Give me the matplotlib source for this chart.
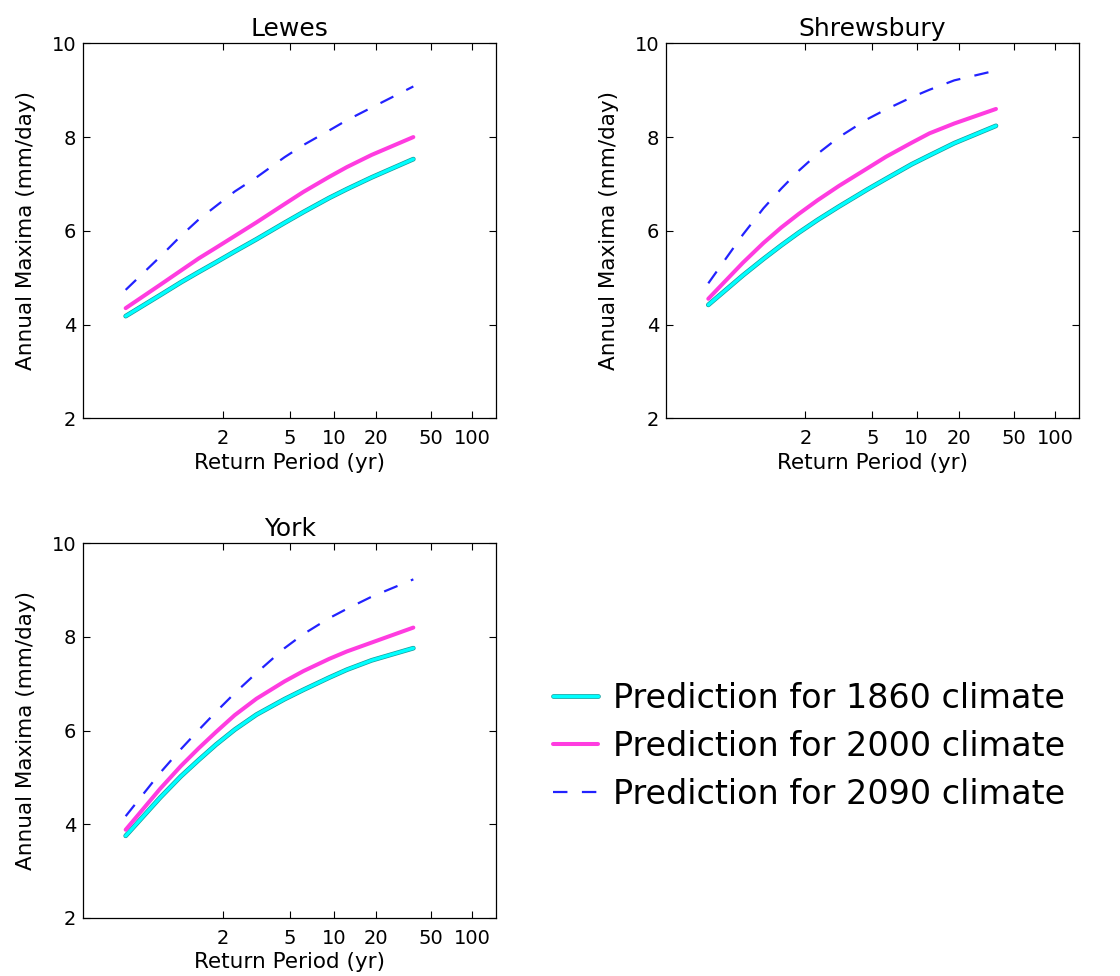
import numpy as np
import matplotlib
matplotlib.use('Agg')
import matplotlib.pyplot as plt
import matplotlib.patheffects as pe
from matplotlib.ticker import FixedLocator, FixedFormatter, NullLocator

# return periods of the plotted points (yr)
return_period = [1.028, 1.156, 1.321, 1.542, 1.85, 2.313, 3.083, 4.625, 6.167, 9.25, 12.33, 18.5, 37.0]

sites = ['Lewes', 'Shrewsbury', 'York']

lewes_1860 = [4.18, 4.63, 4.90, 5.12, 5.33, 5.56, 5.82, 6.17, 6.40, 6.70, 6.89, 7.14, 7.53]
lewes_2000 = [4.35, 4.85, 5.15, 5.41, 5.64, 5.89, 6.18, 6.57, 6.83, 7.15, 7.36, 7.62, 8.00]
lewes_2090 = [4.74, 5.45, 5.89, 6.24, 6.53, 6.84, 7.14, 7.57, 7.83, 8.14, 8.36, 8.63, 9.08]

shrewsbury_1860 = [4.42, 5.05, 5.40, 5.69, 5.96, 6.23, 6.52, 6.88, 7.11, 7.42, 7.61, 7.87, 8.24]
shrewsbury_2000 = [4.55, 5.32, 5.74, 6.07, 6.36, 6.65, 6.96, 7.33, 7.58, 7.88, 8.08, 8.29, 8.60]
shrewsbury_2090 = [4.88, 5.92, 6.48, 6.90, 7.28, 7.64, 8.00, 8.38, 8.59, 8.85, 9.01, 9.21, 9.42]

york_1860 = [3.75, 4.57, 5.02, 5.37, 5.70, 6.02, 6.34, 6.67, 6.87, 7.13, 7.30, 7.50, 7.76]
york_2000 = [3.88, 4.76, 5.24, 5.62, 5.97, 6.33, 6.68, 7.05, 7.27, 7.53, 7.69, 7.88, 8.20]
york_2090 = [4.17, 5.10, 5.60, 6.01, 6.40, 6.80, 7.23, 7.76, 8.06, 8.40, 8.60, 8.86, 9.23]

series = {
    'Lewes': (lewes_1860, lewes_2000, lewes_2090),
    'Shrewsbury': (shrewsbury_1860, shrewsbury_2000, shrewsbury_2090),
    'York': (york_1860, york_2000, york_2090),
}

labels = ['Prediction for 1860 climate', 'Prediction for 2000 climate', 'Prediction for 2090 climate']
xticks = [2, 5, 10, 20, 50, 100]
yticks = [2, 4, 6, 8, 10]


def gumbel(T):
    # Gumbel reduced variate of a return period
    T = np.asarray(T, dtype=float)
    with np.errstate(all='ignore'):
        return -np.log(-np.log(1.0 - 1.0 / T))


def gumbel_inv(g):
    g = np.asarray(g, dtype=float)
    with np.errstate(all='ignore'):
        return 1.0 / (1.0 - np.exp(-np.exp(-g)))


fig = plt.figure(figsize=(11.2, 9.76), dpi=100)
boxes = {
    'Lewes': [0.0744, 0.5714, 0.3685, 0.3842],
    'Shrewsbury': [0.5946, 0.5714, 0.3685, 0.3842],
    'York': [0.0744, 0.0597, 0.3685, 0.3836],
}

handles = []
for site in sites:
    ax = fig.add_axes(boxes[site])
    c1860, c2000, c2090 = series[site]
    h1, = ax.plot(return_period, c1860, color='#00ffff', lw=2.4, solid_capstyle='round',
                  path_effects=[pe.Stroke(linewidth=3.4, foreground='#1a9a9a'), pe.Normal()])
    h2, = ax.plot(return_period, c2000, color='#ff3ce0', lw=2.9, solid_capstyle='round')
    h3, = ax.plot(return_period, c2090, color='#2222ff', lw=1.6, linestyle=(0, (6.5, 6.5)))
    if not handles:
        handles = [h1, h2, h3]

    ax.set_xscale('function', functions=(gumbel, gumbel_inv))
    ax.set_xlim(gumbel_inv(-2.0), gumbel_inv(5.0))
    ax.set_ylim(2, 10)
    ax.xaxis.set_major_locator(FixedLocator(xticks))
    ax.xaxis.set_major_formatter(FixedFormatter([str(t) for t in xticks]))
    ax.xaxis.set_minor_locator(NullLocator())
    ax.yaxis.set_major_locator(FixedLocator(yticks))
    ax.yaxis.set_minor_locator(NullLocator())
    ax.tick_params(direction='in', top=True, right=True, length=5, width=0.8,
                   labelsize=14, colors='black')
    ax.tick_params(axis='x', pad=8)
    ax.tick_params(axis='y', pad=5)
    for s in ax.spines.values():
        s.set_linewidth(0.9)
    ax.set_title(site, fontsize=18, pad=5)
    ax.set_xlabel('Return Period (yr)', fontsize=15.5, labelpad=3)
    ax.set_ylabel('Annual Maxima (mm/day)', fontsize=15.5, labelpad=11)

fig.legend(handles, labels, loc='center left', bbox_to_anchor=(553 / 1120, 1 - 746 / 976),
           frameon=False, fontsize=24, borderpad=0, borderaxespad=0,
           handlelength=1.35, handletextpad=0.45, labelspacing=0.45)

fig.savefig('out.png', dpi=100)
